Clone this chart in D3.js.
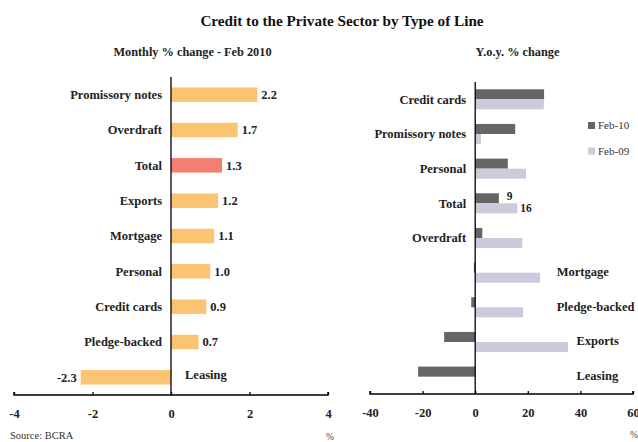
<!DOCTYPE html>
<html>
<head>
<meta charset="utf-8">
<script src="https://cdn.jsdelivr.net/npm/d3@7"></script>
<style>
  html, body { margin: 0; padding: 0; background: #fff; }
  svg { display: block; font-family: "Liberation Serif", "DejaVu Serif", serif; }
</style>
</head>
<body>
<svg id="chart" width="638" height="442"></svg>
<script>
// Monthly % change, Feb 2010
const monthlyCategories = ["Promissory notes", "Overdraft", "Total", "Exports", "Mortgage",
  "Personal", "Credit cards", "Pledge-backed", "Leasing"];
const monthlyValues = [2.2, 1.7, 1.3, 1.2, 1.1, 1.0, 0.9, 0.7, -2.3];
const monthlyTicks = [-4, -2, 0, 2, 4];

// Year-over-year % change
const yoyCategories = ["Credit cards", "Promissory notes", "Personal", "Total", "Overdraft",
  "Mortgage", "Pledge-backed", "Exports", "Leasing"];
const yoyFeb10 = [26.2, 15.2, 12.4, 9, 2.7, -0.5, -1.5, -11.8, -21.7];
const yoyFeb09 = [26.1, 2.2, 19.3, 16, 17.9, 24.7, 18.2, 35.3, 0];
const yoySeries = ["Feb-10", "Feb-09"];
const yoyTicks = [-40, -20, 0, 20, 40, 60];

const svg = d3.select("#chart");
const ORANGE = "#fbc473", RED = "#f47f71", DARK = "#666666", LIGHT = "#cbcbdc";
// plain hyphen for negative numbers
const hy = f => v => f(v).replace("\u2212", "-");
const fmt1 = hy(d3.format(".1f"));
const fmtInt = hy(d3.format("d"));

svg.append("text").attr("x", 342).attr("y", 26).attr("text-anchor", "middle")
  .attr("font-size", 15.2).attr("font-weight", "bold").attr("fill", "#111")
  .text("Credit to the Private Sector by Type of Line");

// ---------- Left panel: monthly change ----------
const xL = d3.scaleLinear().domain([-4, 4]).range([14, 328]);
const yL = d3.scaleBand().domain(monthlyCategories).range([77, 395]).paddingInner(0.59).paddingOuter(0.295);
const left = svg.append("g");

left.append("text").attr("x", 192.5).attr("y", 56).attr("text-anchor", "middle")
  .attr("font-size", 12.3).attr("font-weight", "bold").attr("fill", "#222")
  .text("Monthly % change - Feb 2010");

left.selectAll("rect.bar").data(monthlyCategories).join("rect")
  .attr("class", "bar")
  .attr("x", (d, i) => xL(Math.min(0, monthlyValues[i])))
  .attr("y", d => yL(d))
  .attr("width", (d, i) => Math.abs(xL(monthlyValues[i]) - xL(0)))
  .attr("height", yL.bandwidth())
  .attr("fill", d => d === "Total" ? RED : ORANGE);

left.selectAll("text.val").data(monthlyCategories).join("text")
  .attr("class", "val")
  .attr("x", (d, i) => monthlyValues[i] >= 0 ? xL(monthlyValues[i]) + 4 : xL(monthlyValues[i]) - 4)
  .attr("y", d => yL(d) + yL.bandwidth() / 2)
  .attr("dy", "0.35em")
  .attr("text-anchor", (d, i) => monthlyValues[i] >= 0 ? "start" : "end")
  .attr("font-size", 12.5).attr("font-weight", "bold").attr("fill", "#222")
  .text((d, i) => fmt1(monthlyValues[i]));

left.selectAll("text.cat").data(monthlyCategories).join("text")
  .attr("class", "cat")
  .attr("x", (d, i) => monthlyValues[i] >= 0 ? xL(0) - 9 : xL(0) + 14)
  .attr("y", (d, i) => yL(d) + yL.bandwidth() / 2 - (monthlyValues[i] >= 0 ? 0 : 3))
  .attr("dy", "0.35em")
  .attr("text-anchor", (d, i) => monthlyValues[i] >= 0 ? "end" : "start")
  .attr("font-size", 12.5).attr("font-weight", "bold").attr("fill", "#222")
  .text(d => d);

left.append("line").attr("x1", xL(0)).attr("x2", xL(0)).attr("y1", 77).attr("y2", 395)
  .attr("stroke", "#000").attr("stroke-width", 1.3);

const axL = left.append("g").attr("transform", "translate(0,395)")
  .call(d3.axisBottom(xL).tickValues(monthlyTicks).tickSize(-3).tickPadding(14).tickFormat(fmtInt));
axL.select(".domain").attr("stroke", "#000").attr("stroke-width", 1.4).attr("d", `M${xL(-4)},-3V0H${xL(4)}V-3`);
axL.selectAll(".tick line").attr("stroke", "#000").attr("stroke-width", 1.3);
axL.selectAll(".tick text").attr("font-family", "Liberation Serif, serif").attr("font-size", 12.5)
  .attr("font-weight", "bold").attr("fill", "#222");

left.append("text").attr("x", 10).attr("y", 439).attr("font-size", 10.5).attr("fill", "#333")
  .text("Source: BCRA");
left.append("text").attr("x", 326).attr("y", 440).attr("font-size", 9.5).attr("fill", "#444").text("%");

// ---------- Right panel: year-over-year change ----------
const xR = d3.scaleLinear().domain([-40, 60]).range([370, 633]);
const yR = d3.scaleBand().domain(yoyCategories).range([82, 394]).paddingInner(0.42).paddingOuter(0.21);
const ySub = d3.scaleBand().domain(yoySeries).range([0, yR.bandwidth()]);
const colorR = d3.scaleOrdinal().domain(yoySeries).range([DARK, LIGHT]);
const right = svg.append("g");

right.append("text").attr("x", 517.5).attr("y", 56).attr("text-anchor", "middle")
  .attr("font-size", 12.3).attr("font-weight", "bold").attr("fill", "#222")
  .text("Y.o.y. % change");

const rows = yoyCategories.map((c, i) => ({ cat: c, vals: [yoyFeb10[i], yoyFeb09[i]] }));
const grp = right.selectAll("g.grp").data(rows).join("g")
  .attr("class", "grp").attr("transform", d => `translate(0,${yR(d.cat)})`);
grp.selectAll("rect").data(d => d.vals.map((v, k) => ({ s: yoySeries[k], v }))).join("rect")
  .attr("x", d => xR(Math.min(0, d.v)))
  .attr("y", d => ySub(d.s))
  .attr("width", d => Math.abs(xR(d.v) - xR(0)))
  .attr("height", ySub.bandwidth())
  .attr("fill", d => colorR(d.s));

// category labels: left of the axis for the top rows, right of the bars for the rest
const labelRightAt = { "Mortgage": 31, "Pledge-backed": 31, "Exports": 38.5, "Leasing": 38.5 };
right.selectAll("text.cat").data(yoyCategories).join("text")
  .attr("class", "cat")
  .attr("x", d => labelRightAt[d] !== undefined ? xR(labelRightAt[d]) : xR(0) - 9)
  .attr("y", d => yR(d) + yR.bandwidth() / 2 - (labelRightAt[d] !== undefined ? 1 : 0))
  .attr("dy", "0.35em")
  .attr("text-anchor", d => labelRightAt[d] !== undefined ? "start" : "end")
  .attr("font-size", 12.5).attr("font-weight", "bold").attr("fill", "#222")
  .text(d => d);

// value labels for the Total row
const iTot = yoyCategories.indexOf("Total");
right.append("text").attr("x", xR(yoyFeb10[iTot]) + 8).attr("y", yR("Total") + ySub("Feb-10") + ySub.bandwidth() / 2 - 2)
  .attr("dy", "0.35em").attr("font-size", 11.5).attr("font-weight", "bold").attr("fill", "#222")
  .text(yoyFeb10[iTot]);
right.append("text").attr("x", xR(yoyFeb09[iTot]) + 3).attr("y", yR("Total") + ySub("Feb-09") + ySub.bandwidth() / 2)
  .attr("dy", "0.35em").attr("font-size", 11.5).attr("font-weight", "bold").attr("fill", "#222")
  .text(yoyFeb09[iTot]);

right.append("line").attr("x1", xR(0)).attr("x2", xR(0)).attr("y1", 82).attr("y2", 394)
  .attr("stroke", "#000").attr("stroke-width", 1.3);

const axR = right.append("g").attr("transform", "translate(0,394)")
  .call(d3.axisBottom(xR).tickValues(yoyTicks).tickSize(-3).tickPadding(14).tickFormat(fmtInt));
axR.select(".domain").attr("stroke", "#000").attr("stroke-width", 1.4).attr("d", `M${xR(-40)},-3V0H${xR(60)}V-3`);
axR.selectAll(".tick line").attr("stroke", "#000").attr("stroke-width", 1.3);
axR.selectAll(".tick text").attr("font-family", "Liberation Serif, serif").attr("font-size", 12.5)
  .attr("font-weight", "bold").attr("fill", "#222");

right.append("text").attr("x", 630).attr("y", 438).attr("font-size", 9.5).attr("fill", "#444").text("%");

// legend
const leg = right.selectAll("g.leg").data(yoySeries).join("g")
  .attr("class", "leg").attr("transform", (d, i) => `translate(588,${122 + i * 25.5})`);
leg.append("rect").attr("width", 7).attr("height", 7).attr("fill", d => colorR(d));
leg.append("text").attr("x", 10).attr("y", 3.5).attr("dy", "0.35em")
  .attr("font-size", 11).attr("fill", "#333").text(d => d);
</script>
</body>
</html>
